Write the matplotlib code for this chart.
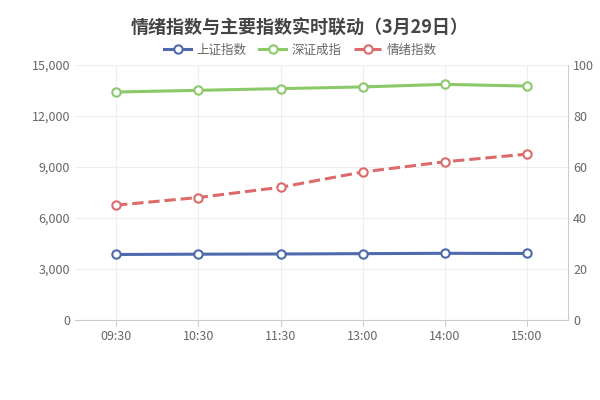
import matplotlib.pyplot as plt
from matplotlib.ticker import FuncFormatter

plt.rcParams['font.family'] = ['Noto Sans CJK SC', 'DejaVu Sans']

times = ['09:30', '10:30', '11:30', '13:00', '14:00', '15:00']
sh_index = [3850, 3870, 3880, 3900, 3920, 3910]
sz_index = [13400, 13500, 13600, 13700, 13850, 13750]
sentiment = [45, 48, 52, 58, 62, 65]

fig = plt.figure(figsize=(6, 4), dpi=100)
ax = fig.add_axes([0.125, 0.2, 0.822, 0.638])
ax2 = ax.twinx()

x = range(len(times))
l1, = ax.plot(x, sh_index, color='#4e6aad', lw=2.2, marker='o', ms=6,
              mfc='white', mew=1.5, label='上证指数')
l2, = ax.plot(x, sz_index, color='#8cc96a', lw=2.2, marker='o', ms=6,
              mfc='white', mew=1.5, label='深证成指')
l3, = ax2.plot(x, sentiment, color='#db6b6b', lw=2.2, ls='--', marker='o', ms=6,
               mfc='white', mew=1.5, label='情绪指数')

ax.set_ylim(0, 15000)
ax.set_yticks(range(0, 15001, 3000))
ax.yaxis.set_major_formatter(FuncFormatter(lambda v, p: f'{int(v):,}'))
ax2.set_ylim(0, 100)
ax2.set_yticks(range(0, 101, 20))
ax.set_xlim(-0.5, len(times) - 0.5)
ax.set_xticks(list(x))
ax.set_xticklabels(times)

ax.grid(True, color='#eeeeee', lw=0.8)
for a in (ax, ax2):
    for s in a.spines.values():
        s.set_visible(False)
    a.tick_params(colors='#666666', labelsize=9, length=0)
ax.spines['bottom'].set_visible(True)
ax.spines['bottom'].set_color('#cccccc')
ax2.spines['right'].set_visible(True)
ax2.spines['right'].set_color('#cccccc')
ax.tick_params(axis='x', length=4, color='#cccccc')

fig.text(0.5, 0.93, '情绪指数与主要指数实时联动（3月29日）', ha='center', va='center',
         fontsize=13, fontweight='bold', color='#444444')
fig.legend(handles=[l1, l2, l3], loc='center', bbox_to_anchor=(0.5, 0.875), ncol=3,
           frameon=False, fontsize=9, labelcolor='#666666', handlelength=2.2,
           columnspacing=1.0, handletextpad=0.4)

fig.savefig('out.png')
